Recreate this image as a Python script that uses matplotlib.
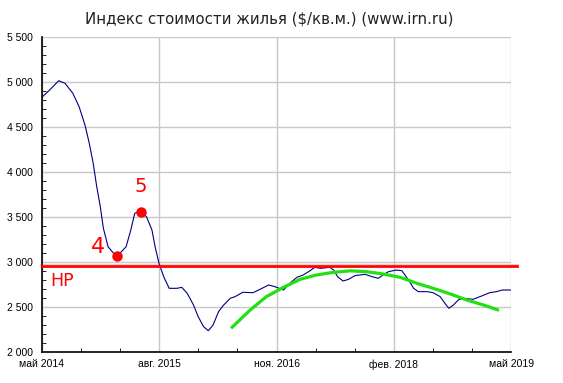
import matplotlib
matplotlib.use("Agg")
import matplotlib.pyplot as plt
from matplotlib.ticker import FixedLocator, MultipleLocator

# положение по оси X в месяцах от мая 2014 (0) до мая 2019 (60)
months = [0, 1.0, 2.2, 3.0, 4.0, 4.8, 5.55, 6.1, 6.6, 7.05, 7.47, 7.9, 8.5,
          9.2, 9.6, 10.2, 10.8, 11.4, 11.9, 12.6, 13.4, 14.1, 14.5, 15.0,
          15.6, 16.3, 17.3, 17.9, 18.6, 19.4, 20.0, 20.7, 21.3, 21.9, 22.6,
          23.2, 24.1, 24.7, 25.7, 27.0, 27.9, 29.0, 29.8, 30.9, 31.7, 32.6,
          33.4, 34.1, 34.9, 35.6, 36.8, 37.3, 37.8, 38.5, 39.2, 40.0, 41.3,
          42.2, 43.0, 43.6, 44.3, 45.3, 46.0, 46.4, 47.0, 47.5, 48.1, 49.2,
          50.0, 50.9, 51.5, 52.0, 52.6, 53.2, 53.8, 55.1, 56.2, 57.2, 58.1,
          58.8, 60]
price = [4830, 4911, 5018, 4989, 4878, 4729, 4526, 4322, 4100, 3840, 3637,
         3378, 3173, 3100, 3075, 3118, 3173, 3359, 3544, 3573, 3507, 3359,
         3173, 2989, 2840, 2711, 2711, 2722, 2656, 2526, 2396, 2284, 2240,
         2303, 2451, 2520, 2600, 2618, 2667, 2662, 2700, 2748, 2729, 2692,
         2767, 2833, 2859, 2896, 2944, 2933, 2944, 2914, 2840, 2792, 2811,
         2851, 2867, 2840, 2822, 2859, 2896, 2914, 2907, 2859, 2785, 2711,
         2674, 2674, 2662, 2618, 2544, 2489, 2526, 2581, 2600, 2589, 2626,
         2662, 2674, 2692, 2692]

trend_m = [24.2, 26.6, 28.7, 30.9, 33.0, 35.1, 37.3, 39.4, 41.5, 43.6,
           45.8, 47.9, 50.0, 52.2, 54.3, 56.4, 58.4]
trend_v = [2267, 2467, 2618, 2722, 2811, 2859, 2889, 2905, 2896, 2870,
           2833, 2767, 2711, 2648, 2581, 2526, 2467]

level = 2959
points_m = [9.6, 12.7]
points_v = [3075, 3556]

x_ticks = [0, 15, 30, 45, 60]
x_labels = ["май 2014", "авг. 2015", "ноя. 2016", "фев. 2018", "май 2019"]
y_ticks = [2000, 2500, 3000, 3500, 4000, 4500, 5000, 5500]
y_labels = ["2 000", "2 500", "3 000", "3 500", "4 000", "4 500", "5 000", "5 500"]

fig = plt.figure(figsize=(5.63, 3.83), dpi=100)
ax = fig.add_axes([41.5 / 563, 1 - 352.3 / 383, 470 / 563, 315 / 383])

ax.plot(months, price, color="#000080", lw=0.8, zorder=3)
ax.plot(trend_m, trend_v, color="#22e011", lw=2.3, solid_capstyle="butt", zorder=4)
ax.plot([0, 60.7], [level, level], color="#ff0000", lw=1.9, clip_on=False, zorder=5)
ax.plot([0, 60.7], [level, level], color="#ff0000", lw=3.0, alpha=0.2,
        clip_on=False, zorder=5)
ax.plot(points_m, points_v, "o", color="#ff0000", ms=6.5, zorder=6)

ax.text(7.2, 3170, "4", color="#ff0000", fontsize=16, ha="center", va="center")
ax.text(12.7, 3842, "5", color="#ff0000", fontsize=14, ha="center", va="center")
ax.text(2.6, 2792, "HP", color="#ff0000", fontsize=12.5, ha="center", va="center")

ax.set_xlim(0, 60)
ax.set_ylim(2000, 5500)
ax.xaxis.set_major_locator(FixedLocator(x_ticks))
ax.set_xticklabels(x_labels)
ax.xaxis.set_minor_locator(MultipleLocator(5))
ax.yaxis.set_major_locator(FixedLocator(y_ticks))
ax.set_yticklabels(y_labels)
ax.yaxis.set_minor_locator(MultipleLocator(100))

ax.grid(True, which="major", color="#c8c8c8", lw=1)
ax.set_axisbelow(True)
for s in ["top", "right"]:
    ax.spines[s].set_visible(False)
for s in ["left", "bottom"]:
    ax.spines[s].set_linewidth(1.2)

ax.tick_params(which="both", direction="in", colors="black", labelsize=7.5)
ax.tick_params(which="major", length=0)
ax.tick_params(which="minor", length=3)
ax.tick_params(axis="y", pad=6)
ax.tick_params(axis="x", pad=5)
for lab in ax.get_xticklabels() + ax.get_yticklabels():
    lab.set_family("Liberation Sans")

fig.text(0.478, 0.95, "Индекс стоимости жилья ($/кв.м.) (www.irn.ru)",
         ha="center", va="center", fontsize=10.8, color="#222222")

fig.savefig("out.png", dpi=100)
